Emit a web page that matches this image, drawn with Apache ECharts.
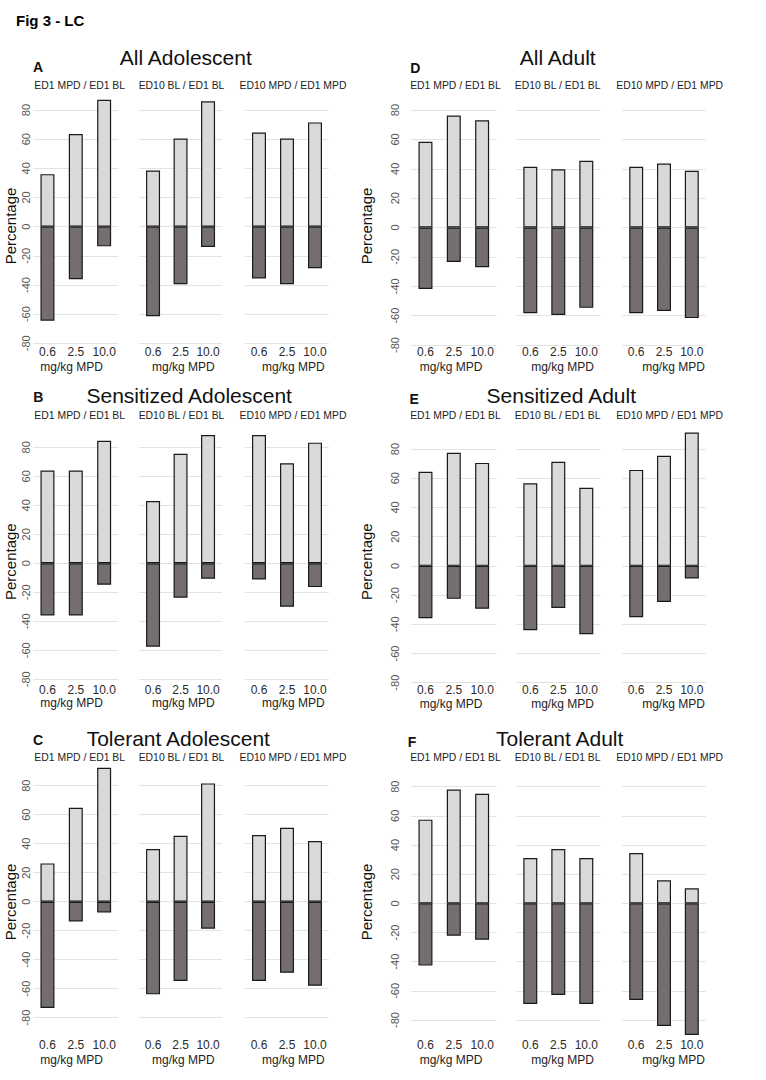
<!DOCTYPE html>
<html>
<head>
<meta charset="utf-8">
<title>Fig 3 - LC</title>
<script src="https://cdn.jsdelivr.net/npm/echarts@6/dist/echarts.min.js"></script>
<style>
  html, body { margin: 0; padding: 0; background: #ffffff; }
  #chart { width: 766px; height: 1080px; }
</style>
</head>
<body>
<div id="chart"></div>
<script>
// ---------------- data ----------------
const figureTitle = 'Fig 3 - LC';
const doses = ['0.6', '2.5', '10.0'];
const xAxisName = 'mg/kg MPD';
const yAxisName = 'Percentage';
const yTicks = [-80, -60, -40, -20, 0, 20, 40, 60, 80];
const comparisons = ['ED1 MPD / ED1 BL', 'ED10 BL / ED1 BL', 'ED10 MPD / ED1 MPD'];
const panelLetters = ['A', 'B', 'C', 'D', 'E', 'F'];
const panelTitles = ['All Adolescent', 'Sensitized Adolescent', 'Tolerant Adolescent',
                     'All Adult', 'Sensitized Adult', 'Tolerant Adult'];

// increase (light) and decrease (dark) percentages, one row per comparison, columns = doses
const increaseA = [[36, 63.5, 87], [38.5, 60.5, 86], [64.5, 60.5, 71.5]];
const decreaseA = [[-64.5, -36, -13.5], [-61.5, -39.5, -14], [-35.5, -39.5, -28.5]];
const increaseB = [[64, 64, 84.5], [43, 75.5, 88.5], [88.5, 69, 83.2]];
const decreaseB = [[-36, -36, -14.8], [-57.5, -23.7, -10.7], [-11.2, -30, -16.4]];
const increaseC = [[26.4, 64.8, 92.4], [36.3, 45.5, 81.6], [46, 51, 41.8]];
const decreaseC = [[-73.3, -13.6, -7.4], [-63.9, -54.7, -18.6], [-54.7, -49, -58]];
const increaseD = [[58.3, 76.3, 73], [41.3, 39.7, 45.4], [41.3, 43.6, 38.6]];
const decreaseD = [[-41.8, -23.5, -27], [-58.3, -59.5, -54.7], [-58.3, -56.8, -61.7]];
const increaseE = [[64.4, 77.4, 70.5], [56.6, 71.2, 53.4], [65.7, 75.3, 91.3]];
const decreaseE = [[-35.8, -22.6, -29.4], [-44.1, -28.8, -46.8], [-35.2, -24.7, -8.7]];
const increaseF = [[57.4, 78, 75.2], [31.1, 37.3, 31.1], [34.5, 15.8, 10.3]];
const decreaseF = [[-42.7, -22.2, -24.9], [-69, -62.9, -69], [-66.3, -84.1, -90.3]];

const increases = [increaseA, increaseB, increaseC, increaseD, increaseE, increaseF];
const decreases = [decreaseA, decreaseB, decreaseC, decreaseD, decreaseE, decreaseF];

// ---------------- layout (pixels) ----------------
const columnLayout = [
  { grids: [[33.3, 85], [139.3, 82.5], [245, 84]], subX: [79.7, 181.5, 293], nameX: [71.7, 183.3, 293.3], pctX: 10.5, yLabelMargin: 2 },
  { grids: [[411.3, 85], [516.3, 84], [622.3, 83.4]], subX: [455.5, 557.7, 669.7], nameX: [451, 562.5, 673.5], pctX: 366.7, yLabelMargin: 11 }
];
const panelLayout = [
  { col: 0, top: 110,   bottom: 343.3,  title: [185.8, 57.5],  letter: [38, 67],     subY: 85,    tickMargin: 3,   nameY: 366.5, pctY: 226 },
  { col: 0, top: 447.3, bottom: 679.3,  title: [189.2, 395.8], letter: [38.3, 396.7], subY: 415.7, tickMargin: 4.5, nameY: 703.3, pctY: 561.7 },
  { col: 0, top: 785.7, bottom: 1017.7, title: [178.3, 738.3], letter: [38, 740],    subY: 757.7, tickMargin: 21,  nameY: 1060, pctY: 902 },
  { col: 1, top: 110,   bottom: 345,    title: [557.7, 57],    letter: [415.3, 68],  subY: 85,    tickMargin: 1,   nameY: 366.5, pctY: 226 },
  { col: 1, top: 449,   bottom: 682.7,  title: [561.3, 395.8], letter: [414.2, 399], subY: 415.7, tickMargin: 1,   nameY: 704,   pctY: 561.7 },
  { col: 1, top: 786.7, bottom: 1020,   title: [559.7, 738.3], letter: [412, 742],   subY: 757.7, tickMargin: 19,  nameY: 1060, pctY: 902 }
];

const FONT = '"Liberation Sans", Arial, sans-serif';
const lightColor = '#d9d9d9';
const darkColor = '#746e6e';
const edgeColor = '#1a1a1a';

const grids = [], xAxes = [], yAxes = [], series = [], graphics = [];

function text(x, y, str, font, fill, rotation) {
  const el = {
    type: 'text', x: x, y: y, silent: true,
    style: { text: str, font: font, fill: fill, align: 'center', verticalAlign: 'middle' }
  };
  if (rotation) el.rotation = rotation;
  return el;
}

graphics.push({
  type: 'text', x: 16, y: 20, silent: true,
  style: { text: figureTitle, font: 'bold 15px ' + FONT, fill: '#000', align: 'left', verticalAlign: 'middle' }
});

panelLayout.forEach((L, pi) => {
  const C = columnLayout[L.col];
  for (let s = 0; s < 3; s++) {
    const gi = grids.length;
    grids.push({ left: C.grids[s][0], width: C.grids[s][1], top: L.top, height: L.bottom - L.top, containLabel: false });
    xAxes.push({
      gridIndex: gi, type: 'category', data: doses,
      axisLine: { show: false }, axisTick: { show: false }, splitLine: { show: false },
      axisLabel: { interval: 0, margin: L.tickMargin, fontSize: 12, color: '#2a2a2a', fontFamily: FONT }
    });
    yAxes.push({
      gridIndex: gi, type: 'value', min: yTicks[0], max: yTicks[yTicks.length - 1], interval: yTicks[1] - yTicks[0],
      axisLine: { show: false }, axisTick: { show: false },
      splitLine: { show: true, lineStyle: { color: '#e3e3e3', width: 1 } },
      axisLabel: { show: s === 0, rotate: 90, margin: C.yLabelMargin, fontSize: 11, color: '#555', fontFamily: FONT }
    });
    series.push({
      type: 'bar', name: 'Increase', xAxisIndex: gi, yAxisIndex: gi,
      data: increases[pi][s], barWidth: 14, clip: false, silent: true,
      itemStyle: { color: lightColor, borderColor: edgeColor, borderWidth: 1.2 }
    });
    series.push({
      type: 'bar', name: 'Decrease', xAxisIndex: gi, yAxisIndex: gi,
      data: decreases[pi][s], barWidth: 14, barGap: '-100%', clip: false, silent: true,
      itemStyle: { color: darkColor, borderColor: edgeColor, borderWidth: 1.2 }
    });
    graphics.push(text(C.subX[s], L.subY, comparisons[s], '10.4px ' + FONT, '#222'));
    graphics.push(text(C.nameX[s], L.nameY, xAxisName, '12px ' + FONT, '#222'));
  }
  graphics.push(text(L.title[0], L.title[1], panelTitles[pi], '21px ' + FONT, '#111'));
  graphics.push(text(L.letter[0], L.letter[1], panelLetters[pi], 'bold 14px ' + FONT, '#111'));
  graphics.push(text(C.pctX, L.pctY, yAxisName, '15px ' + FONT, '#111', Math.PI / 2));
});

const chart = echarts.init(document.getElementById('chart'), null, { renderer: 'svg', width: 766, height: 1080 });
chart.setOption({
  backgroundColor: '#ffffff',
  animation: false,
  textStyle: { fontFamily: FONT },
  grid: grids,
  xAxis: xAxes,
  yAxis: yAxes,
  series: series,
  graphic: graphics
});
</script>
</body>
</html>
